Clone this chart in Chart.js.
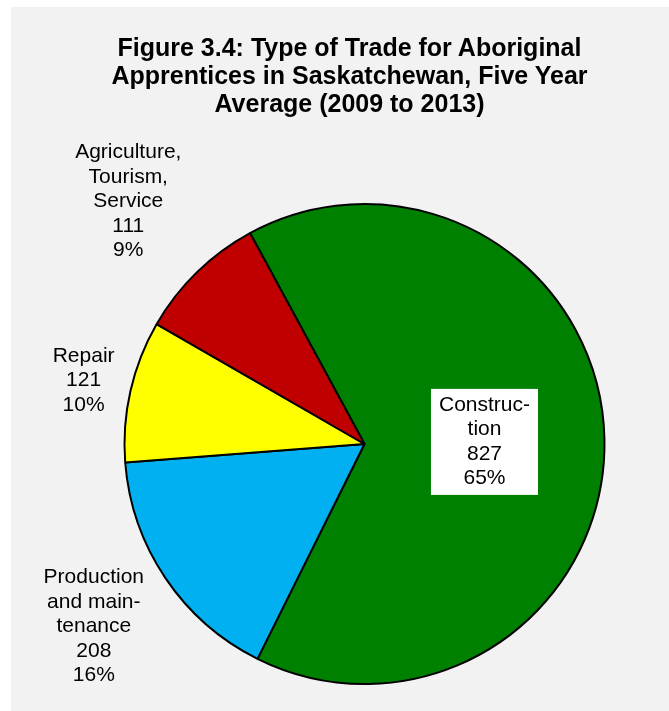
<!DOCTYPE html>
<html>
<head>
<meta charset="utf-8">
<script src="https://cdn.jsdelivr.net/npm/chart.js@4.4.1/dist/chart.umd.min.js"></script>
<style>
  html, body { margin: 0; padding: 0; background: #ffffff; }
  #painel {
    position: absolute; left: 11px; top: 7px;
    width: 658px; height: 704px;
    background: #f2f2f2;
  }
  #titulo {
    position: absolute; left: 0; top: 26px; width: 658px;
    padding-left: 19px; box-sizing: border-box;
    text-align: center;
    font: bold 25px "Liberation Sans", Arial, sans-serif;
    line-height: 28px; color: #000;
  }
  #grafico { position: absolute; left: 0; top: 0; }
</style>
</head>
<body>
<div id="painel">
  <canvas id="grafico" width="658" height="704"></canvas>
  <div id="titulo">Figure 3.4: Type of Trade for Aboriginal<br>Apprentices in Saskatchewan, Five Year<br>Average (2009 to 2013)</div>
</div>
<script>
// trades, clockwise from the top
const categorias = [
  ["Construc-", "tion"],
  ["Production", "and main-", "tenance"],
  ["Repair"],
  ["Agriculture,", "Tourism,", "Service"]
];
const aprendizes = [827, 208, 121, 111];
const cores = ["#008000", "#00b0f0", "#ffff00", "#c00000"];

const fonteRotulo = '21px "Liberation Sans", Arial, sans-serif';
const alturaLinha = 24.5;

// writes name / count / share next to each slice
const rotulosFatias = {
  id: "rotulosFatias",
  afterDatasetsDraw(chart, args, opts) {
    const ctx = chart.ctx;
    const total = aprendizes.reduce((a, b) => a + b, 0);
    const arcos = chart.getDatasetMeta(0).data;

    ctx.save();
    ctx.font = fonteRotulo;
    ctx.textAlign = "center";
    ctx.textBaseline = "middle";

    arcos.forEach((arco, i) => {
      const p = arco.getProps(["x", "y", "startAngle", "endAngle", "outerRadius"], true);
      const meio = (p.startAngle + p.endAngle) / 2;
      const dist = p.outerRadius * opts.distancias[i];
      const cx = p.x + Math.cos(meio) * dist;
      const cy = p.y + Math.sin(meio) * dist;

      const linhas = [...categorias[i], String(aprendizes[i]), Math.round(aprendizes[i] / total * 100) + "%"];
      const alturaBloco = linhas.length * alturaLinha;

      if (opts.comCaixa[i]) {
        const larg = Math.max(...linhas.map(l => ctx.measureText(l).width)) + 16;
        ctx.fillStyle = "#ffffff";
        ctx.fillRect(cx - larg / 2, cy - alturaBloco / 2 - 4, larg, alturaBloco + 8);
      }

      ctx.fillStyle = "#000000";
      linhas.forEach((l, k) => {
        ctx.fillText(l, cx, cy - alturaBloco / 2 + alturaLinha * (k + 0.5));
      });
    });
    ctx.restore();
  }
};

new Chart(document.getElementById("grafico"), {
  type: "pie",
  data: {
    labels: categorias.map(c => c.join(" ")),
    datasets: [{
      data: aprendizes,
      backgroundColor: cores,
      borderColor: "#000000",
      borderWidth: 2,
      radius: 240
    }]
  },
  options: {
    responsive: false,
    animation: false,
    rotation: -28.5,
    layout: { padding: { left: 49, right: 0, top: 170, bottom: 0 } },
    plugins: {
      legend: { display: false },
      title: { display: false },
      tooltip: { enabled: false },
      rotulosFatias: {
        distancias: [0.5, 1.36, 1.2, 1.41],
        comCaixa: [true, false, false, false]
      }
    }
  },
  plugins: [rotulosFatias]
});
</script>
</body>
</html>
